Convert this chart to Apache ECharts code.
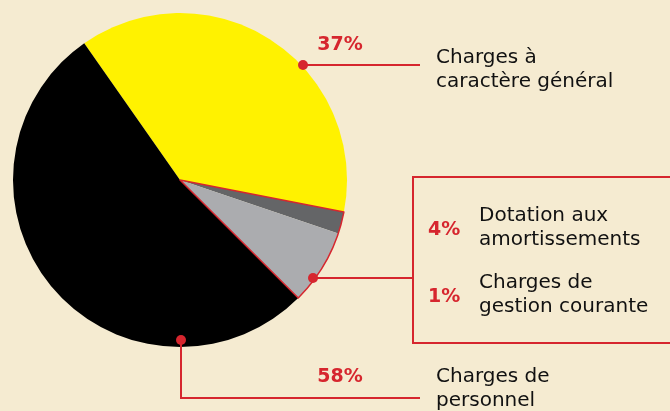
<!DOCTYPE html>
<html>
<head>
<meta charset="utf-8">
<script src="https://cdn.jsdelivr.net/npm/echarts@6/dist/echarts.min.js"></script>
<style>
  html, body { margin: 0; padding: 0; background: #f5ebd1; }
  #chart { width: 670px; height: 411px; }
</style>
</head>
<body>
<div id="chart"></div>
<script>
// slices, in drawing order (clockwise from the top-left)
var names = ['Charges à caractère général', 'Charges de gestion courante', 'Dotation aux amortissements', 'Charges de personnel'];
var sliceValues = [37.8, 2.1, 7.3, 52.8];
var sliceColors = ['#fff200', '#646567', '#abacaf', '#000000'];
// printed percentages
var pctLabels = ['37%', '1%', '4%', '58%'];

var RED = '#d6262e';
var FONT = '"DejaVu Sans", "Open Sans", sans-serif';

var chart = echarts.init(document.getElementById('chart'));

function txt(x, y, text, opt) {
    opt = opt || {};
    return {
        type: 'text', x: x, y: y, z: 100, silent: true,
        style: {
            text: text,
            fill: opt.fill || '#111',
            font: (opt.bold ? 'bold ' : '') + (opt.size || 20) + 'px ' + FONT,
            align: opt.align || 'left',
            verticalAlign: 'middle'
        }
    };
}
function pct(x, y, text, align) {
    return txt(x, y, text, { fill: RED, bold: true, size: 19, align: align });
}
function line(x1, y1, x2, y2) {
    return { type: 'line', z: 100, silent: true, shape: { x1: x1, y1: y1, x2: x2, y2: y2 },
        style: { stroke: RED, lineWidth: 2 } };
}
function dot(x, y) {
    return { type: 'circle', z: 101, silent: true, shape: { cx: x, cy: y, r: 5 }, style: { fill: RED } };
}

chart.setOption({
    backgroundColor: '#f5ebd1',
    animation: false,
    series: [
        {
            type: 'pie',
            center: [180, 180],
            radius: [0, 167],
            startAngle: 125,
            clockwise: true,
            label: { show: false },
            labelLine: { show: false },
            itemStyle: { borderWidth: 0 },
            emphasis: { disabled: true },
            data: names.map(function (n, i) {
                return { name: n, value: sliceValues[i], itemStyle: { color: sliceColors[i] } };
            })
        },
        {
            // red outline round the two grey slices together
            type: 'pie',
            center: [180, 180],
            radius: [0, 167],
            startAngle: 125,
            clockwise: true,
            silent: true,
            label: { show: false },
            labelLine: { show: false },
            emphasis: { disabled: true },
            data: [
                { value: sliceValues[0], itemStyle: { color: 'transparent', borderWidth: 0 } },
                { value: sliceValues[1] + sliceValues[2], itemStyle: { color: 'transparent', borderColor: RED, borderWidth: 1.5 } },
                { value: sliceValues[3], itemStyle: { color: 'transparent', borderWidth: 0 } }
            ]
        }
    ],
    graphic: [
        // top callout
        line(303, 65, 420, 65),
        dot(303, 65),
        pct(340, 45, pctLabels[0], 'center'),
        txt(436, 58, 'Charges à'),
        txt(436, 82, 'caractère général'),
        // grey slices box
        { type: 'rect', z: 100, silent: true, shape: { x: 413, y: 177, width: 270, height: 166 },
          style: { fill: 'none', stroke: RED, lineWidth: 2 } },
        line(313, 278, 413, 278),
        dot(313, 278),
        pct(428, 230, pctLabels[2]),
        txt(479, 216, 'Dotation aux'),
        txt(479, 240, 'amortissements'),
        pct(428, 297, pctLabels[1]),
        txt(479, 283, 'Charges de'),
        txt(479, 307, 'gestion courante'),
        // bottom callout
        { type: 'polyline', z: 100, silent: true, shape: { points: [[181, 340], [181, 398], [420, 398]] },
          style: { stroke: RED, lineWidth: 2, fill: 'none' } },
        dot(181, 340),
        pct(340, 377, pctLabels[3], 'center'),
        txt(436, 377, 'Charges de'),
        txt(436, 401, 'personnel')
    ]
});
</script>
</body>
</html>
